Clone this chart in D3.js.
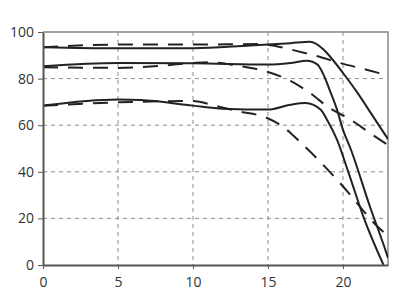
<!DOCTYPE html>
<html>
<head>
<meta charset="utf-8">
<script src="https://cdn.jsdelivr.net/npm/d3@7"></script>
<style>
    body { margin: 0; background: #fff; }
    text { font-family: "Open Sans", "Noto Sans", sans-serif; }
</style>
</head>
<body>
<div id="chartContainer"></div>
<script>
const marginLeft = 43;
const marginTop = 32;
const marginRight = 12;
const marginBottom = 35;
const width = 400;
const height = 300;

// axis ticks
const xTicks = [0, 5, 10, 15, 20];
const yTicks = [0, 20, 40, 60, 80, 100];

// solid curves
const solid1X = [0, 5, 10, 13.8, 15, 16.5, 17.8, 18.7, 19.3, 20, 20.9, 22, 23];
const solid1Y = [93.5, 93, 93, 94.2, 94.6, 95.2, 95.8, 92.5, 88.2, 82.4, 74.5, 63.8, 54];
const solid2X = [0, 5, 10, 15, 16.5, 17.6, 18.3, 18.7, 19.1, 19.6, 20, 20.5, 21.8, 22.9, 23];
const solid2Y = [85.3, 86.7, 86.6, 86, 86.7, 87.7, 86, 81.7, 75.3, 66.7, 58, 50, 25, 5, 3];
const solid3X = [0, 5, 6.5, 10, 12, 15, 16.5, 17.5, 18.5, 19, 19.6, 20.35, 21.4, 22.7];
const solid3Y = [68.4, 71, 70.8, 68.4, 67.1, 66.7, 68.8, 69.5, 66.7, 61.6, 53.8, 40, 20, 0];

// dashed curves
const dashed1X = [0, 5, 10, 14.5, 15.5, 16.5, 18.3, 19.8, 21.7, 23];
const dashed1Y = [93.5, 94.6, 94.6, 94.8, 94, 92.5, 89.6, 86.7, 83.6, 81.3];
const dashed2X = [0, 5, 8, 10, 11, 13, 15, 16.5, 17.8, 19.1, 20.5, 21.8, 23];
const dashed2Y = [84.9, 84.6, 85.6, 86.7, 87, 85.5, 82.8, 79, 73.8, 67.4, 62.4, 56.6, 51.5];
const dashed3X = [0, 5, 10, 11.5, 13, 14.9, 15.8, 16.5, 17.1, 17.8, 19.1, 20.3, 21.3, 22.3, 23];
const dashed3Y = [68.4, 69.8, 70.4, 68.3, 66, 63.2, 60.2, 56.7, 53, 48.7, 40.1, 31.5, 23.7, 16.5, 12.5];

var series = [
    { x: solid1X, y: solid1Y, dashed: false },
    { x: solid2X, y: solid2Y, dashed: false },
    { x: solid3X, y: solid3Y, dashed: false },
    { x: dashed1X, y: dashed1Y, dashed: true },
    { x: dashed2X, y: dashed2Y, dashed: true },
    { x: dashed3X, y: dashed3Y, dashed: true }
];

var svg = d3.select("#chartContainer").append("svg")
    .attr("width", width).attr("height", height);

var xScale = d3.scaleLinear().domain([0, 23]).range([marginLeft, width - marginRight]);
var yScale = d3.scaleLinear().domain([0, 100]).range([height - marginBottom, marginTop]);

// dashed grid
svg.append("g").selectAll("line")
    .data(xTicks.slice(1))
    .join("line")
    .attr("x1", d => xScale(d)).attr("x2", d => xScale(d))
    .attr("y1", yScale(100)).attr("y2", yScale(0))
    .attr("stroke", "#8c8c8c").attr("stroke-dasharray", "4,4");
svg.append("g").selectAll("line")
    .data(yTicks.slice(1, -1))
    .join("line")
    .attr("x1", xScale(0)).attr("x2", xScale(23))
    .attr("y1", d => yScale(d)).attr("y2", d => yScale(d))
    .attr("stroke", "#8c8c8c").attr("stroke-dasharray", "4,4");

// top and right frame
svg.append("path")
    .attr("d", "M" + xScale(0) + "," + yScale(100) + "H" + xScale(23) + "V" + yScale(0))
    .attr("fill", "none").attr("stroke", "#888").attr("stroke-width", 1.5);

svg.append("clipPath").attr("id", "plotClip").append("rect")
    .attr("x", xScale(0)).attr("y", yScale(100))
    .attr("width", xScale(23) - xScale(0)).attr("height", yScale(0) - yScale(100));

var line = d3.line()
    .x(d => xScale(d[0]))
    .y(d => yScale(d[1]))
    .curve(d3.curveMonotoneX);

svg.append("g").attr("clip-path", "url(#plotClip)")
    .selectAll("path")
    .data(series)
    .join("path")
    .attr("d", s => line(s.x.map((v, i) => [v, s.y[i]])))
    .attr("fill", "none")
    .attr("stroke", "#222")
    .attr("stroke-width", 2)
    .attr("stroke-dasharray", s => s.dashed ? "15,10" : null);

// axes
var bottomAxis = d3.axisBottom(xScale).tickValues(xTicks).tickSize(4).tickPadding(8).tickSizeOuter(0);
var gx = svg.append("g")
    .attr("transform", "translate(0," + yScale(0) + ")")
    .call(bottomAxis);
var leftAxis = d3.axisLeft(yScale).tickValues(yTicks).tickSize(5).tickPadding(4).tickSizeOuter(0);
var gy = svg.append("g")
    .attr("transform", "translate(" + xScale(0) + ",0)")
    .call(leftAxis);

[gx, gy].forEach(function (g) {
    g.select(".domain").attr("stroke", "#555").attr("stroke-width", 2);
    g.selectAll(".tick line").attr("stroke", "#555");
    g.selectAll(".tick text").attr("fill", "#333").style("font-size", "14px");
});
</script>
</body>
</html>
